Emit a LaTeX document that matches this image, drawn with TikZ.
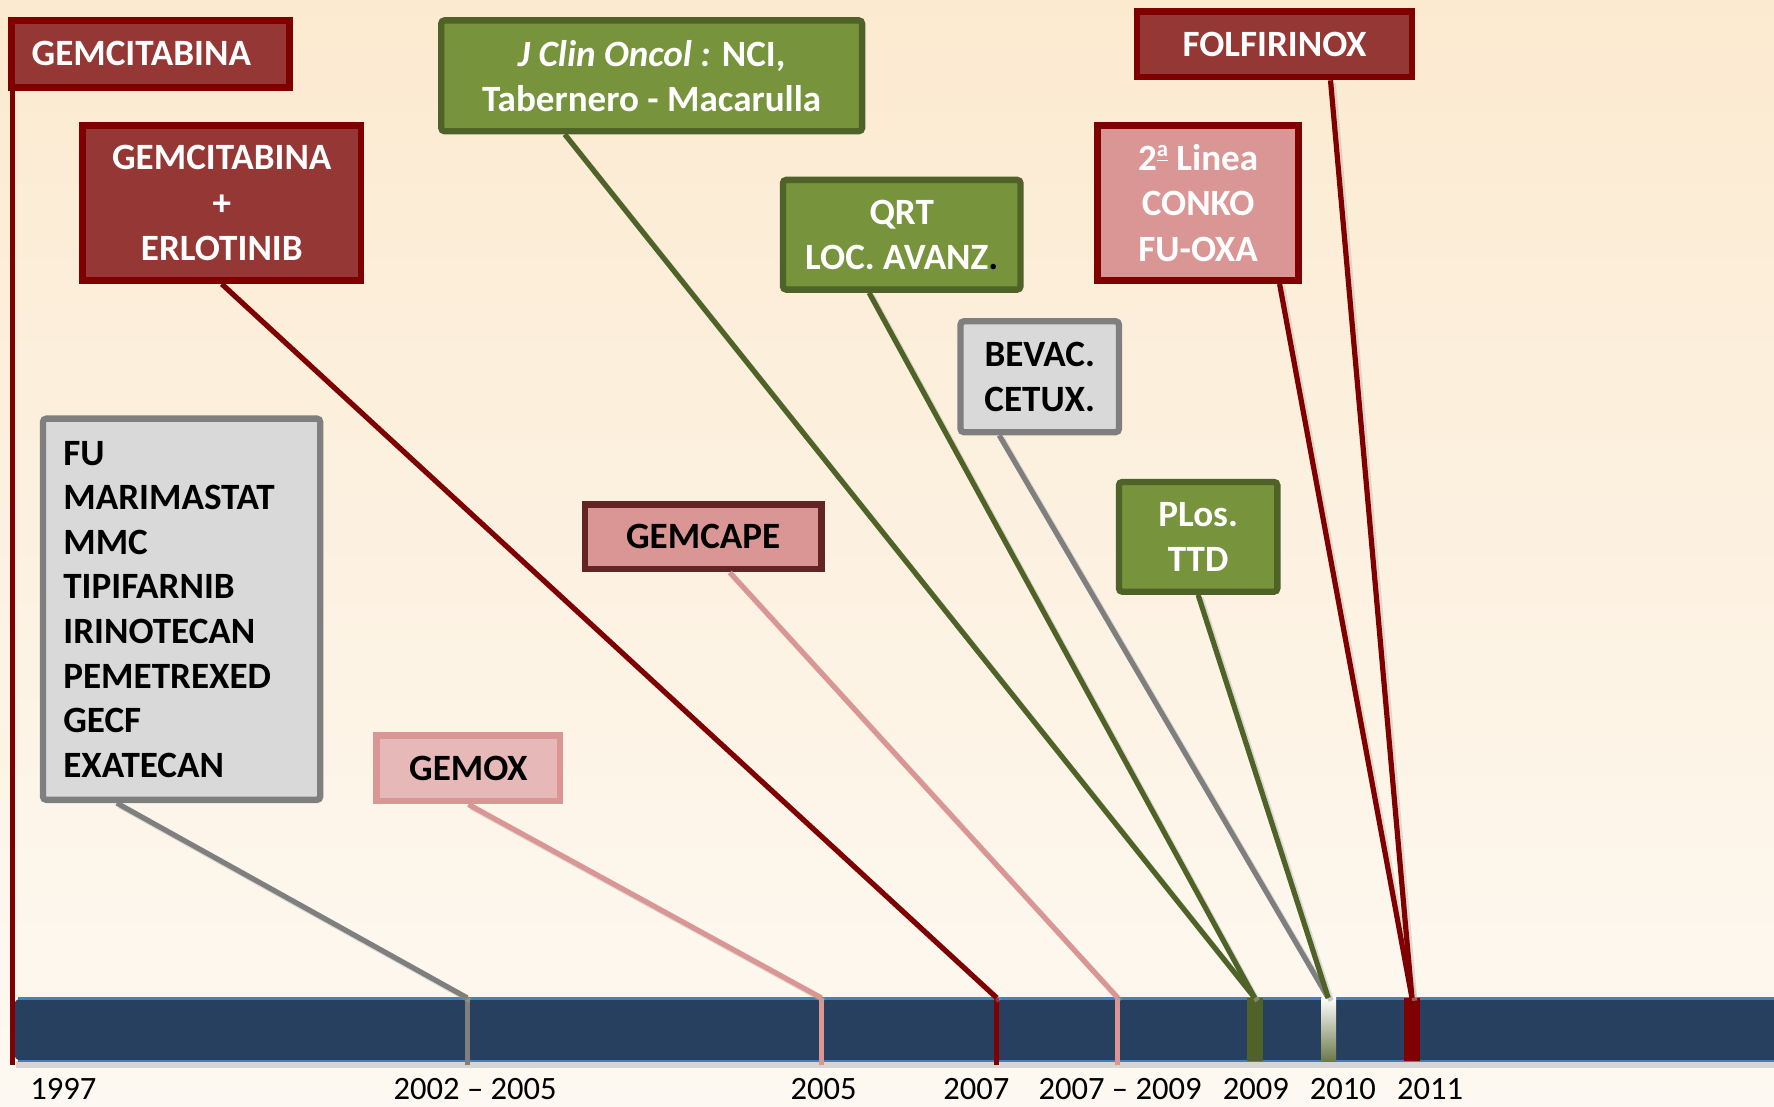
\documentclass[tikz,border=0pt]{standalone}
\usepackage{fontspec}
\setmainfont{Carlito}
\usetikzlibrary{calc}

\definecolor{darkred}{HTML}{7F0000}
\definecolor{redfill}{HTML}{953735}
\definecolor{pinkfill}{HTML}{D99694}
\definecolor{lightpink}{HTML}{E6B9B8}
\definecolor{capeborder}{HTML}{632523}
\definecolor{greenfill}{HTML}{77933C}
\definecolor{greenborder}{HTML}{4F6228}
\definecolor{grayfill}{HTML}{D9D9D9}
\definecolor{grayborder}{HTML}{7F7F7F}
\definecolor{barnavy}{HTML}{284060}
\definecolor{baredge}{HTML}{4A7EBB}
\definecolor{bgtop}{RGB}{252,234,208}
\definecolor{bgbottom}{RGB}{253,249,242}

% connector with a soft drop shadow
\newcommand\tlconn[3]{%
  \draw[connshadow] ([shift={(2.5,2.5)}]#2) -- ([shift={(2.5,2.5)}]#3);
  \draw[conn,#1] (#2) -- (#3);}
% underlined feminine ordinal indicator
\newcommand\ordfem{{\fontsize{10}{10}\selectfont\raisebox{0.62em}{\underline{a}}}}

\begin{document}
\begin{tikzpicture}[x=0.5pt,y=-0.5pt,
  box/.style={draw, line width=3pt, inner sep=0pt, align=center,
    font=\bfseries\fontsize{16.4}{20}\selectfont},
  redbox/.style={box, fill=redfill, draw=darkred, text=white},
  conkobox/.style={box, fill=pinkfill, draw=darkred, text=white},
  capebox/.style={box, fill=pinkfill, draw=capeborder, text=black},
  moxbox/.style={box, fill=lightpink, draw=pinkfill, text=black},
  greenbox/.style={box, fill=greenfill, draw=greenborder, text=white,
    line width=2.8pt, rounded corners=1.5pt},
  graybox/.style={box, fill=grayfill, draw=grayborder, text=black,
    line width=2.8pt, rounded corners=1.5pt},
  conn/.style={line width=2.3pt},
  connshadow/.style={line width=2.3pt, black!35, opacity=0.35},
  tick/.style={line width=2.2pt},
  year/.style={font=\fontsize{14.4}{16}\selectfont, anchor=base, text=black}
]
\useasboundingbox (0,0) rectangle (1568,978);

% background
\shade[top color=bgtop, bottom color=bgbottom] (0,0) rectangle (1568,978);

% timeline bar
\fill[black!22, opacity=0.7] (14,938) rectangle (1568,944);
\fill[barnavy, rounded corners=4pt] (12,882) rectangle (1590,938);
\draw[baredge, line width=1pt] (16,882.5) -- (1568,882.5);
\draw[baredge, line width=1pt] (16,937.5) -- (1568,937.5);

% tick points on the bar
\coordinate (t2002) at (413,882);  \coordinate (b2002) at (413,941);
\coordinate (t2005) at (726,882);  \coordinate (b2005) at (726,941);
\coordinate (t2007) at (881,882);  \coordinate (b2007) at (881,941);
\coordinate (t0709) at (988,882);  \coordinate (b0709) at (988,941);
\coordinate (t2009) at (1109,882);
\coordinate (t2010) at (1174,882);
\coordinate (t2011) at (1248,882);

% markers for 2009 - 2011
\fill[greenborder] (1102,882) rectangle (1116,938);
\shade[top color=white, bottom color=greenborder!85] (1168,882) rectangle (1181,938);
\fill[darkred] (1241,882) rectangle (1255,938);

% vertical ticks
\draw[tick, grayborder] (t2002) -- (b2002);
\draw[tick, pinkfill] (t2005) -- (b2005);
\draw[tick, darkred] (t2007) -- (b2007);
\draw[tick, pinkfill] (t0709) -- (b0709);

% boxes
\node[redbox, minimum height=29.5pt, text width=105pt, inner xsep=9pt, align=left]
  (gem) at (133,47.5) {GEMCITABINA};
\node[redbox, minimum width=123pt, minimum height=68.5pt]
  (gemerl) at (196,179.5) {GEMCITABINA\\+\\ERLOTINIB};
\node[greenbox, minimum width=186pt, minimum height=49pt]
  (jco) at (576,67) {{\itshape J Clin Oncol :} NCI,\\Tabernero - Macarulla};
\node[greenbox, minimum width=105pt, minimum height=48.5pt]
  (qrt) at (797,207.5) {QRT\\LOC. AVANZ{\color{black}.}};
\node[graybox, minimum width=70pt, minimum height=49pt]
  (bev) at (919,333) {BEVAC.\\CETUX.};
\node[redbox, minimum width=121.5pt, minimum height=29pt]
  (folf) at (1126.5,39) {FOLFIRINOX};
\node[conkobox, minimum width=89pt, minimum height=68.5pt]
  (conko) at (1059,179.5) {2\ordfem{} Linea\\CONKO\\FU-OXA};
\node[greenbox, minimum width=70pt, minimum height=48.5pt]
  (plos) at (1059,474.5) {PLos.\\TTD};
\node[capebox, minimum width=104.5pt, minimum height=28.5pt]
  (cape) at (621.5,474.5) {GEMCAPE};
\node[moxbox, minimum width=81pt, minimum height=29pt]
  (mox) at (414,679) {GEMOX};
\node[graybox, minimum height=168.5pt, text width=104.5pt, inner xsep=9pt, align=left,
  font=\bfseries\fontsize{16.4}{19.7}\selectfont]
  (fu) at (160.5,538.5) {FU\\MARIMASTAT\\MMC\\TIPIFARNIB\\IRINOTECAN\\PEMETREXED\\GECF\\EXATECAN};

% connector start points on the box edges
\coordinate (gemA) at ($(gem.south west)+(4,0)$);
\coordinate (gemB) at (gemA |- b2007);
\coordinate (fuA) at ($(fu.south west)+(68,0)$);
\coordinate (capeA) at ($(cape.south west)+(131,0)$);
\coordinate (jcoA) at ($(jco.south west)+(112,0)$);
\coordinate (qrtA) at ($(qrt.south west)+(79,0)$);
\coordinate (bevA) at ($(bev.south west)+(37,0)$);
\coordinate (conkoA) at ($(conko.south west)+(164,0)$);
\coordinate (folfA) at ($(folf.south west)+(174,0)$);

% connectors
\draw[tick, darkred] (gemA) -- (gemB);
\tlconn{grayborder}{fuA}{t2002}
\tlconn{pinkfill}{mox.south}{t2005}
\tlconn{darkred}{gemerl.south}{t2007}
\tlconn{pinkfill}{capeA}{t0709}
\tlconn{greenborder}{jcoA}{t2009}
\tlconn{greenborder}{qrtA}{t2009}
\tlconn{grayborder}{bevA}{t2010}
\tlconn{greenborder}{plos.south}{t2010}
\tlconn{darkred}{conkoA}{t2011}
\tlconn{darkred}{folfA}{t2011}

% year labels
\node[year] (y1997) at (56,972) {1997};
\node[year] (y0205) at (420,972) {2002 – 2005};
\node[year] (y2005) at (728,972) {2005};
\node[year] (y2007) at (863,972) {2007};
\node[year] (y0709) at (990,972) {2007 – 2009};
\node[year] (y2009) at (1110,972) {2009};
\node[year] (y2010) at (1187,972) {2010};
\node[year] (y2011) at (1264,972) {2011};
\end{tikzpicture}
\end{document}
